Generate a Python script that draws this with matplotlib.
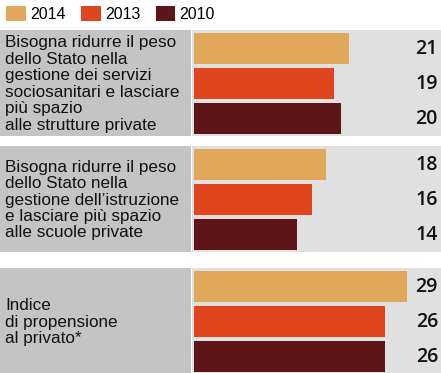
import matplotlib
matplotlib.use("Agg")
import matplotlib.pyplot as plt
from matplotlib.patches import Rectangle
import matplotlib.transforms as mtransforms

# ---- data ----
years = ["2014", "2013", "2010"]
categories = [
    "Bisogna ridurre il peso\ndello Stato nella\ngestione dei servizi\nsociosanitari e lasciare\npiù spazio\nalle strutture private",
    "Bisogna ridurre il peso\ndello Stato nella\ngestione dell’istruzione\ne lasciare più spazio\nalle scuole private",
    "Indice\ndi propensione\nal privato*",
]
values_2014 = [21, 18, 29]
values_2013 = [19, 16, 26]
values_2010 = [20, 14, 26]
series = [values_2014, values_2013, values_2010]

# ---- style ----
colors = ["#E1A75B", "#E0461D", "#5E1518"]
label_bg = "#C4C4C4"
bar_bg = "#E0E0E0"
W, H = 441, 373
px_per_unit = 7.36
bar_x0 = 194
group_centers = [83, 199, 321]   # layout (pixels from top)
bar_pitch = 35
bar_h = 31

fig = plt.figure(figsize=(W / 100, H / 100), dpi=100)
ax = fig.add_axes([0, 0, 1, 1])
ax.set_xlim(-bar_x0 / px_per_unit, (W - bar_x0) / px_per_unit)
ax.set_ylim(H, 0)
ax.axis("off")

trans = mtransforms.blended_transform_factory(ax.transAxes, ax.transData)
label_font = ["Liberation Sans", "DejaVu Sans"]

for g, cat in enumerate(categories):
    c = group_centers[g]
    ax.add_patch(Rectangle((0, c - 53), 191 / W, 106, transform=trans,
                           facecolor=label_bg, edgecolor="none", zorder=0))
    ax.add_patch(Rectangle((192 / W, c - 53), 1 - 192 / W, 106, transform=trans,
                           facecolor=bar_bg, edgecolor="none", zorder=0))
    ax.text(5 / W, c + 1, cat, transform=trans, ha="left", va="center",
            fontsize=12.3, family=label_font, color="#111111",
            linespacing=1.12)

handles = []
for i, (yr, vals) in enumerate(zip(years, series)):
    ys = [group_centers[g] + (i - 1) * bar_pitch for g in range(len(vals))]
    bc = ax.barh(ys, vals, height=bar_h, left=0, color=colors[i], label=yr,
                 zorder=2)
    handles.append(bc)
    for y, v in zip(ys, vals):
        ax.text(438 / W, y + 1, str(v), transform=trans, ha="right",
                va="center", fontsize=14, family=["Open Sans", "DejaVu Sans"],
                fontweight="semibold", color="#111111")

leg = ax.legend(handles=handles, loc="upper left", bbox_to_anchor=(0.0, 1.0),
                ncol=3, frameon=False,
                prop={"family": ["Liberation Sans", "DejaVu Sans"], "size": 11.5},
                handlelength=1.25, handleheight=1.0, handletextpad=0.25,
                columnspacing=0.95, borderaxespad=0.25, borderpad=0.15)

fig.savefig("out.png", dpi=100)
